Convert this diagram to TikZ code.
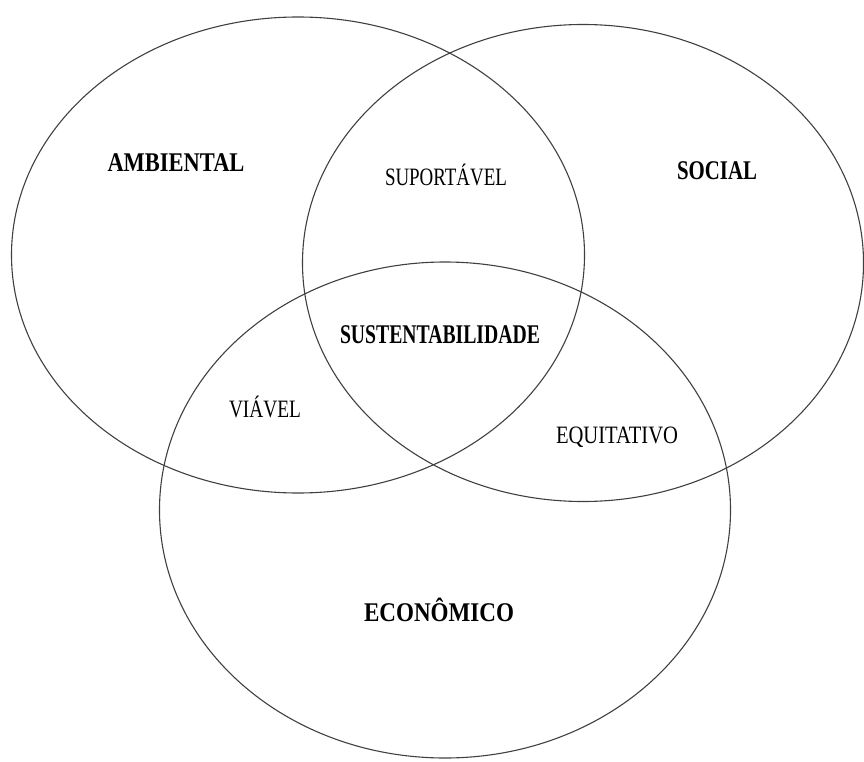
\documentclass[tikz,border=0pt]{standalone}
\usepackage{fontspec}
\setmainfont{Liberation Serif}
\usetikzlibrary{shapes.geometric}

% condensed label: squeeze text to a given width
\newcommand{\lbl}[2]{\resizebox{#1}{\height}{#2}}

\begin{document}
\begin{tikzpicture}[x=1pt, y=-1pt]
	\tikzstyle{circ}=[ellipse, draw=black!75, line width=1.1pt, inner sep=0pt]
	\tikzstyle{main}=[font=\fontsize{27}{29}\selectfont\bfseries]
	\tikzstyle{pair}=[font=\fontsize{25}{27}\selectfont]

	\useasboundingbox (0,0) rectangle (864,762);

	\node[circ, minimum width=573pt, minimum height=476pt] (amb) at (298,255) {};
	\node[circ, minimum width=561pt, minimum height=477pt] (soc) at (583,263) {};
	\node[circ, minimum width=571pt, minimum height=496pt] (eco) at (445,510) {};

	\node[main] (lamb) at (176,163) {\lbl{137pt}{AMBIENTAL}};
	\node[main] (lsoc) at (717,171) {\lbl{80pt}{SOCIAL}};
	\node[main] (leco) at (439,610) {\lbl{150pt}{ECONÔMICO}};
	\node[main] (lsus) at (440,335) {\lbl{200pt}{SUSTENTABILIDADE}};

	\node[pair] (lsup) at (446,175) {\lbl{122pt}{SUPORTÁVEL}};
	\node[pair] (lvia) at (265,407) {\lbl{72pt}{VIÁVEL}};
	\node[pair] (lequ) at (617,437) {\lbl{122pt}{EQUITATIVO}};
\end{tikzpicture}
\end{document}
